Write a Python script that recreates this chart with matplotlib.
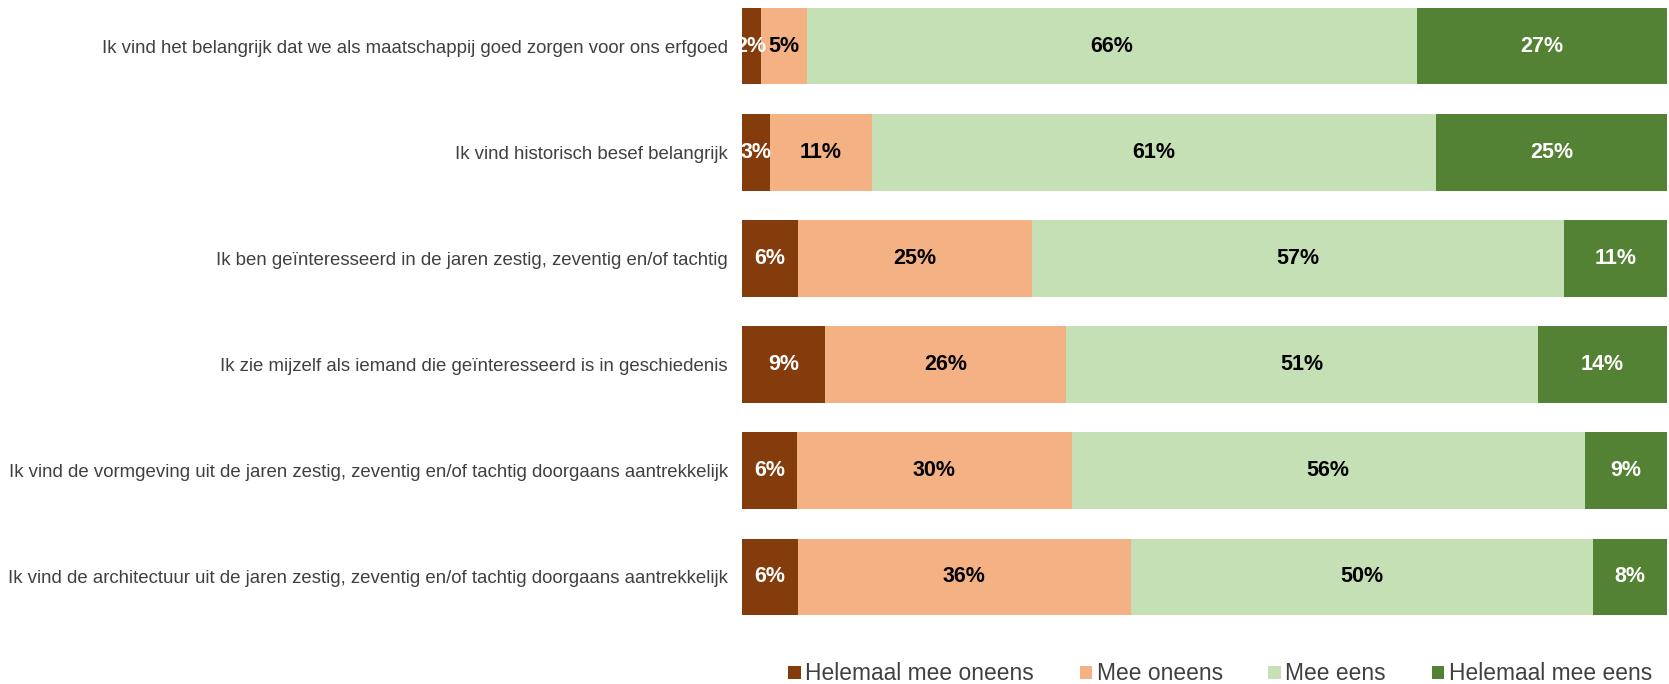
import matplotlib
matplotlib.use("Agg")
import matplotlib.pyplot as plt
import numpy as np

plt.rcParams['font.family'] = ['Liberation Sans', 'DejaVu Sans']

categories = [
    "Ik vind het belangrijk dat we als maatschappij goed zorgen voor ons erfgoed",
    "Ik vind historisch besef belangrijk",
    "Ik ben geïnteresseerd in de jaren zestig, zeventig en/of tachtig",
    "Ik zie mijzelf als iemand die geïnteresseerd is in geschiedenis",
    "Ik vind de vormgeving uit de jaren zestig, zeventig en/of tachtig doorgaans aantrekkelijk",
    "Ik vind de architectuur uit de jaren zestig, zeventig en/of tachtig doorgaans aantrekkelijk",
]
series_names = ["Helemaal mee oneens", "Mee oneens", "Mee eens", "Helemaal mee eens"]
helemaal_oneens = [2, 3, 6, 9, 6, 6]
oneens = [5, 11, 25, 26, 30, 36]
eens = [66, 61, 57, 51, 56, 50]
helemaal_eens = [27, 25, 11, 14, 9, 8]

colors = ["#843C0C", "#F4B183", "#C5E0B4", "#548235"]
text_colors = ["white", "black", "black", "white"]

data = np.array([helemaal_oneens, oneens, eens, helemaal_eens], dtype=float)
totals = data.sum(axis=0)
shares = data / totals

fig = plt.figure(figsize=(16.69, 6.84), dpi=100)
ax = fig.add_axes([742/1669, 69/684, (1667-742)/1669, (615-8)/684])

y = np.arange(len(categories))
left = np.zeros(len(categories))
handles = []
for i, name in enumerate(series_names):
    bars = ax.barh(y, shares[i], left=left, height=0.72, color=colors[i],
                   label=name, linewidth=0)
    handles.append(bars)
    for j in range(len(categories)):
        cx = left[j] + shares[i][j] / 2
        ax.text(cx, y[j], f"{int(data[i][j])}%", ha='center', va='center',
                color=text_colors[i], fontsize=15.5, fontweight='bold')
    left += shares[i]

ax.set_xlim(0, 1)
ax.set_ylim(len(categories) - 1 + 0.36, -0.36)
ax.set_yticks(y)
ax.set_yticklabels(categories, fontsize=13.4, color='#404040')
ax.tick_params(axis='y', length=0, pad=10)
ax.set_xticks([])
for s in ax.spines.values():
    s.set_visible(False)

leg = fig.legend(handles=handles, labels=series_names, loc='center',
                 bbox_to_anchor=(1220/1669, 1 - 674/684), ncol=4, frameon=False,
                 fontsize=16.4, handlelength=0.55, handleheight=0.55,
                 handletextpad=0.2, columnspacing=2.0)
for t in leg.get_texts():
    t.set_color('#404040')

fig.savefig("out.png", dpi=100)
